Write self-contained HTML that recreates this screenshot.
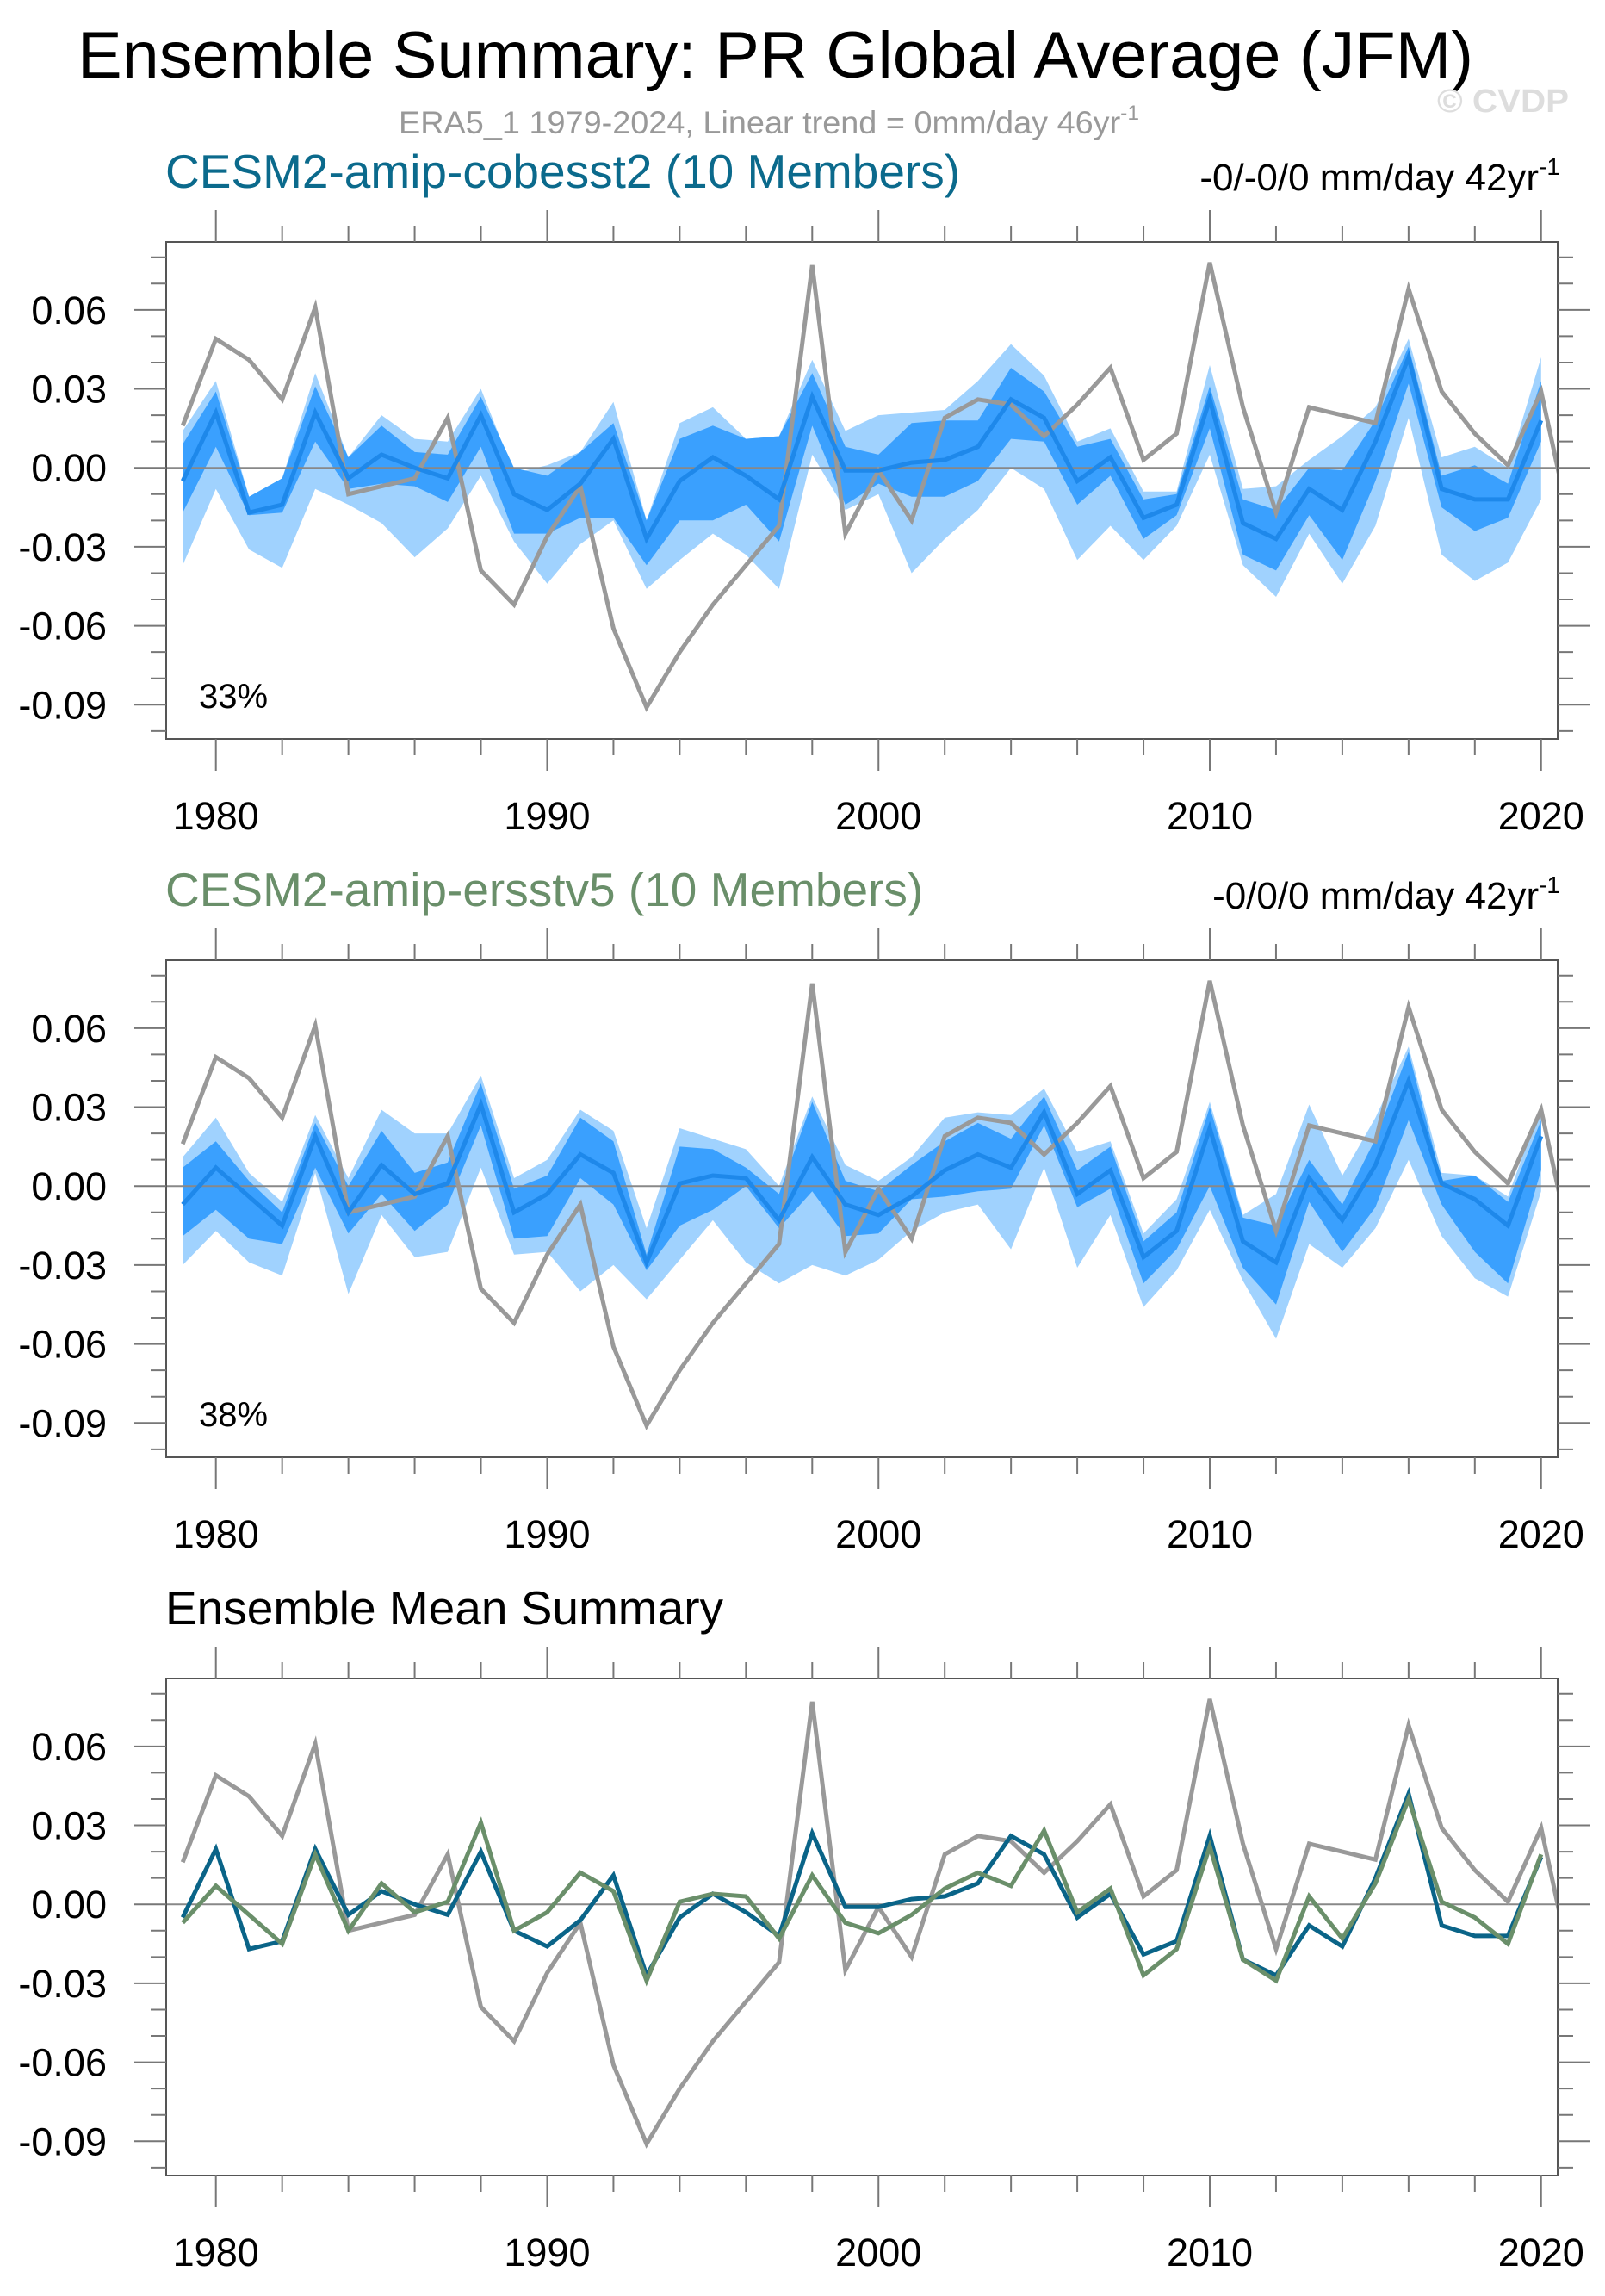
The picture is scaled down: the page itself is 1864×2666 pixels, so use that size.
<!DOCTYPE html>
<html><head><meta charset="utf-8"><style>
html,body{margin:0;padding:0;background:#fff}
svg{display:block}
text{font-family:"Liberation Sans",Arial,sans-serif}
</style></head><body>
<svg id="chart" width="1864" height="2666" viewBox="0 0 1864 2666" xmlns="http://www.w3.org/2000/svg">
<text x="90" y="90" font-size="76" textLength="1621" lengthAdjust="spacingAndGlyphs">Ensemble Summary: PR Global Average (JFM)</text>
<text x="463" y="155" font-size="37" fill="#999" textLength="860" lengthAdjust="spacingAndGlyphs">ERA5_1 1979-2024, Linear trend = 0mm/day 46yr<tspan font-size="24" dy="-16">-1</tspan></text>
<text x="1669" y="130" font-size="38" font-weight="bold" fill="#ddd" textLength="153" lengthAdjust="spacingAndGlyphs">© CVDP</text>
<g id="plots"></g>
</svg>
<script>
// ---- data ----
const years = [1979,1980,1981,1982,1983,1984,1985,1986,1987,1988,1989,1990,1991,1992,1993,1994,1995,1996,1997,1998,1999,2000,2001,2002,2003,2004,2005,2006,2007,2008,2009,2010,2011,2012,2013,2014,2015,2016,2017,2018,2019,2020];
const obsYears = [1979,1980,1981,1982,1983,1984,1985,1986,1987,1988,1989,1990,1991,1992,1993,1994,1995,1996,1997,1998,1999,2000,2001,2002,2003,2004,2005,2006,2007,2008,2009,2010,2011,2012,2013,2014,2015,2016,2017,2018,2019,2020,2021];
const obs = [0.016,0.049,0.041,0.026,0.061,-0.010,-0.007,-0.004,0.019,-0.039,-0.052,-0.026,-0.007,-0.061,-0.091,-0.070,-0.052,-0.037,-0.022,0.077,-0.025,-0.001,-0.020,0.019,0.026,0.024,0.012,0.024,0.038,0.003,0.013,0.078,0.023,-0.017,0.023,0.020,0.017,0.068,0.029,0.013,0.001,0.029,-0.029];
const mean1 = [-0.005,0.021,-0.017,-0.014,0.021,-0.004,0.005,0.000,-0.004,0.020,-0.010,-0.016,-0.006,0.011,-0.027,-0.005,0.004,-0.003,-0.012,0.027,-0.001,-0.001,0.002,0.003,0.008,0.026,0.019,-0.005,0.004,-0.019,-0.014,0.026,-0.021,-0.027,-0.008,-0.016,0.010,0.042,-0.008,-0.012,-0.012,0.018];
const dark1Hi = [0.009,0.029,-0.011,-0.004,0.031,0.004,0.016,0.006,0.005,0.027,0.000,-0.003,0.006,0.017,-0.020,0.011,0.016,0.011,0.012,0.036,0.008,0.005,0.017,0.018,0.018,0.038,0.029,0.008,0.011,-0.012,-0.010,0.031,-0.012,-0.016,0.000,-0.001,0.018,0.046,-0.003,0.001,-0.006,0.033];
const dark1Lo = [-0.017,0.008,-0.018,-0.017,0.010,-0.008,-0.006,-0.007,-0.013,0.008,-0.025,-0.025,-0.019,-0.019,-0.037,-0.020,-0.020,-0.014,-0.028,0.016,-0.014,-0.006,-0.011,-0.011,-0.005,0.011,0.010,-0.014,-0.003,-0.027,-0.018,0.015,-0.033,-0.039,-0.018,-0.035,-0.005,0.032,-0.015,-0.024,-0.019,0.010];
const light1Hi = [0.014,0.033,-0.011,-0.004,0.036,0.004,0.020,0.011,0.010,0.030,-0.002,0.001,0.006,0.025,-0.020,0.017,0.023,0.011,0.012,0.041,0.014,0.020,0.021,0.022,0.033,0.047,0.035,0.010,0.015,-0.009,-0.009,0.039,-0.008,-0.007,0.003,0.012,0.023,0.049,0.004,0.008,0.000,0.042];
const light1Lo = [-0.037,-0.008,-0.031,-0.038,-0.008,-0.014,-0.021,-0.034,-0.023,-0.003,-0.028,-0.044,-0.029,-0.020,-0.046,-0.035,-0.025,-0.033,-0.046,0.005,-0.016,-0.010,-0.040,-0.027,-0.016,0.000,-0.008,-0.035,-0.022,-0.035,-0.022,0.005,-0.037,-0.049,-0.025,-0.044,-0.022,0.019,-0.033,-0.043,-0.036,-0.012];
const mean2 = [-0.007,0.007,-0.004,-0.015,0.019,-0.010,0.008,-0.003,0.001,0.031,-0.010,-0.003,0.012,0.005,-0.029,0.001,0.004,0.003,-0.013,0.011,-0.007,-0.011,-0.004,0.006,0.012,0.007,0.028,-0.003,0.006,-0.027,-0.017,0.022,-0.021,-0.029,0.003,-0.013,0.008,0.040,0.001,-0.005,-0.015,0.019];
const dark2Hi = [0.007,0.017,0.002,-0.010,0.024,0.000,0.021,0.005,0.009,0.039,-0.001,0.004,0.026,0.017,-0.026,0.015,0.014,0.007,-0.003,0.032,0.002,-0.002,0.008,0.017,0.024,0.018,0.034,0.006,0.015,-0.021,-0.010,0.030,-0.012,-0.015,0.010,-0.007,0.018,0.051,0.002,0.004,-0.006,0.025];
const dark2Lo = [-0.019,-0.009,-0.020,-0.022,0.007,-0.018,-0.003,-0.017,-0.007,0.023,-0.020,-0.019,0.003,-0.007,-0.032,-0.015,-0.009,0.000,-0.016,-0.002,-0.019,-0.018,-0.005,-0.004,-0.002,-0.001,0.023,-0.008,-0.001,-0.037,-0.024,0.000,-0.031,-0.045,-0.006,-0.025,-0.008,0.025,-0.007,-0.025,-0.037,0.006];
const light2Hi = [0.011,0.026,0.005,-0.006,0.027,0.003,0.029,0.020,0.020,0.042,0.003,0.010,0.029,0.021,-0.016,0.022,0.018,0.014,0.000,0.034,0.008,0.002,0.011,0.026,0.028,0.027,0.037,0.013,0.017,-0.018,-0.005,0.032,-0.011,-0.003,0.031,0.004,0.026,0.053,0.005,0.004,-0.004,0.031];
const light2Lo = [-0.030,-0.017,-0.029,-0.034,0.005,-0.041,-0.011,-0.027,-0.025,0.007,-0.026,-0.025,-0.040,-0.030,-0.043,-0.028,-0.013,-0.029,-0.037,-0.030,-0.034,-0.028,-0.017,-0.010,-0.007,-0.024,0.007,-0.031,-0.011,-0.046,-0.032,-0.009,-0.036,-0.058,-0.022,-0.031,-0.016,0.010,-0.019,-0.035,-0.042,-0.002];
const yTickVals = [0.06,0.03,0.00,-0.03,-0.06,-0.09];
const yTickLabels = ["0.06","0.03","0.00","-0.03","-0.06","-0.09"];
const xTickYears = [1980,1990,2000,2010,2020];

// ---- layout ----
const NS = "http://www.w3.org/2000/svg";
const L = 193, R = 1809, T0 = 281, H = 577, PANEL_DY = 834;
const X0 = 1978.5, X1 = 2020.5, YMAX = 0.0858, YMIN = -0.1030;
function xs(yr){ return L + (yr - X0) / (X1 - X0) * (R - L); }
function ysF(top){ return v => top + (YMAX - v) / (YMAX - YMIN) * H; }
function mk(tag, attrs, parent){ const e = document.createElementNS(NS, tag); for (const k in attrs) e.setAttribute(k, attrs[k]); parent.appendChild(e); return e; }
const root = document.getElementById('plots');

function linePts(xv, yv, ys){ return xv.map((yr,i)=>xs(yr).toFixed(1)+','+ys(yv[i]).toFixed(1)).join(' '); }
function bandPts(hi, lo, ys){
  const a = years.map((yr,i)=>xs(yr).toFixed(1)+','+ys(hi[i]).toFixed(1));
  const b = years.slice().reverse().map((yr,j)=>{ const i = years.length-1-j; return xs(yr).toFixed(1)+','+ys(lo[i]).toFixed(1); });
  return a.concat(b).join(' ');
}

function panel(idx, top, opts){
  const ys = ysF(top);
  const g = mk('g', {}, root);
  
  
  // titles
  const t = mk('text', {x:192, y: top - 63, 'font-size': 55, fill: opts.titleColor}, g);
  t.textContent = opts.title;
  
  
  if (opts.trend){
    const tr = mk('text', {x:1812, y: top - 60, 'font-size': 44, 'text-anchor':'end'}, g);
    tr.textContent = opts.trend;
    const sup = mk('tspan', {'font-size': 28, dy: -18}, tr);
    sup.textContent = '-1';
    
    
  }
  // clip
  const cp = mk('clipPath', {id: 'clip' + idx}, g);
  mk('rect', {x: L, y: top, width: R - L, height: H}, cp);
  const plot = mk('g', {'clip-path': 'url(#clip' + idx + ')'}, g);
  
  
  if (opts.bands){
    const lb = mk('polygon', {points: bandPts(opts.bands[2], opts.bands[3], ys), fill: '#a0d2fe'}, plot);
    
    
    const db = mk('polygon', {points: bandPts(opts.bands[0], opts.bands[1], ys), fill: '#3aa0fe'}, plot);
    
    
  }
  const zl = mk('line', {x1: L, x2: R, y1: ys(0), y2: ys(0), stroke: '#888', 'stroke-width': 2}, plot);
  
  
  const ob = mk('polyline', {points: linePts(obsYears, obs, ys), fill: 'none', stroke: '#999', 'stroke-width': 5, 'stroke-linejoin': 'miter'}, plot);
  
  
  opts.lines.forEach(ln => {
    const p = mk('polyline', {points: linePts(years, ln.v, ys), fill: 'none', stroke: ln.c, 'stroke-width': 5}, plot);
    
    
  });
  // frame
  const fr = mk('rect', {x: L, y: top, width: R - L, height: H, fill: 'none', stroke: '#555', 'stroke-width': 2}, g);
  
  
  // y ticks
  for (let k = -10; k <= 8; k++){
    const v = k / 100, y = ys(v), major = (k % 3 === 0);
    const len = major ? 37 : 18;
    mk('line', {x1: L - len, x2: L, y1: y, y2: y, stroke: '#777', 'stroke-width': 2}, g);
    mk('line', {x1: R, x2: R + len, y1: y, y2: y, stroke: '#777', 'stroke-width': 2}, g);
  }
  yTickVals.forEach((v,i) => {
    const tl = mk('text', {x: 124, y: ys(v) + 16, 'font-size': 45, 'text-anchor': 'end'}, g);
    tl.textContent = yTickLabels[i];
    
    
  });
  // x ticks
  for (let yr = 1980; yr <= 2020; yr += 2){
    const x = xs(yr), major = (yr % 10 === 0), len = major ? 37 : 19;
    mk('line', {x1: x, x2: x, y1: top - len, y2: top, stroke: '#777', 'stroke-width': 2}, g);
    mk('line', {x1: x, x2: x, y1: top + H, y2: top + H + len, stroke: '#777', 'stroke-width': 2}, g);
  }
  xTickYears.forEach(yr => {
    const xl = mk('text', {x: xs(yr), y: top + H + 105, 'font-size': 45, 'text-anchor': 'middle'}, g);
    xl.textContent = String(yr);
    
    
  });
  if (opts.pct){
    const pc = mk('text', {x: 231, y: top + 541, 'font-size': 40}, g);
    pc.textContent = opts.pct;
    
    
  }
}

panel(1, T0, {key:'cobesst2', title:'CESM2-amip-cobesst2 (10 Members)', titleColor:'#0b6a8c', trend:'-0/-0/0 mm/day 42yr', pct:'33%',
  bands:[dark1Hi, dark1Lo, light1Hi, light1Lo], lines:[{v: mean1, c:'#1e88ea', name:'ensemble-mean-line'}]});
panel(2, T0 + PANEL_DY, {key:'ersstv5', title:'CESM2-amip-ersstv5 (10 Members)', titleColor:'#6a8f6a', trend:'-0/0/0 mm/day 42yr', pct:'38%',
  bands:[dark2Hi, dark2Lo, light2Hi, light2Lo], lines:[{v: mean2, c:'#1e88ea', name:'ensemble-mean-line'}]});
panel(3, T0 + 2*PANEL_DY, {key:'mean-summary', title:'Ensemble Mean Summary', titleColor:'#000',
  lines:[{v: mean1, c:'#0a6488', name:'cobesst2-mean-line'}, {v: mean2, c:'#6a8f6a', name:'ersstv5-mean-line'}]});
</script>
</body></html>
